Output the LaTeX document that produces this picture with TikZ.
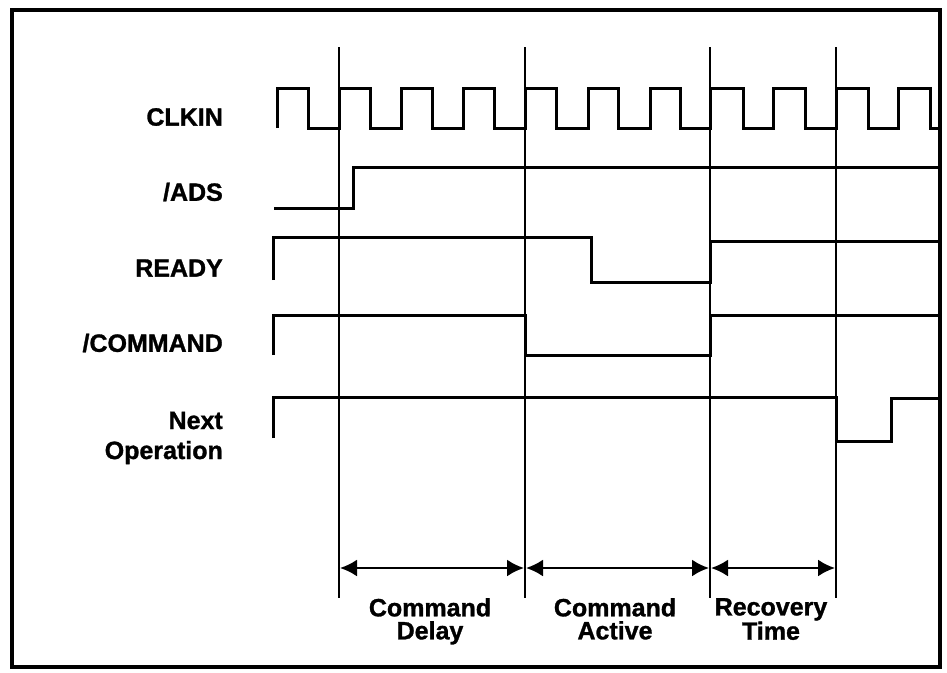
\documentclass[tikz,border=0pt]{standalone}
\usepackage{fontspec}
\setmainfont{Liberation Sans}
\newfontfamily\heavyfont{Liberation Sans Bold}[FakeBold=1.2]
\usetikzlibrary{arrows.meta}
\begin{document}
\begin{tikzpicture}[x=1pt,y=-1pt,
  wave/.style={line width=3pt, line join=miter},
  tline/.style={line width=2.3pt},
  span/.style={line width=2.3pt, {Latex[length=17pt,width=17pt]}-{Latex[length=17pt,width=17pt]}, shorten <=1pt, shorten >=1pt},
  siglabel/.style={font=\fontsize{25}{30}\selectfont\heavyfont, anchor=east, inner sep=0pt, align=right},
  spanlabel/.style={font=\fontsize{25}{23}\selectfont\heavyfont, anchor=north, inner sep=0pt, align=center}]
\useasboundingbox (0,0) rectangle (947,672);
\draw[line width=4.5pt] (12,10) rectangle (940,667);

% signal labels
\node[siglabel] (lclk) at (223,117) {CLKIN};
\node[siglabel] (lads) at (223,192) {/ADS};
\node[siglabel] (lrdy) at (223,268) {READY};
\node[siglabel] (lcmd) at (223,343) {/COMMAND};
\node[siglabel] (lnext) at (223,438) {Next\\Operation};

% time lines
\coordinate (t1top) at (339,47); \coordinate (t1bot) at (339,598);
\coordinate (t2top) at (525,47); \coordinate (t2bot) at (525,598);
\coordinate (t3top) at (710,47); \coordinate (t3bot) at (710,598);
\coordinate (t4top) at (836,47); \coordinate (t4bot) at (836,598);
\draw[tline] (t1top) -- (t1bot);
\draw[tline] (t2top) -- (t2bot);
\draw[tline] (t3top) -- (t3bot);
\draw[tline] (t4top) -- (t4bot);

% CLKIN
\draw[wave] (277,128) -- (277,88) -- (308,88) -- (308,128) -- (339,128) -- (339,88) -- (370,88) -- (370,128) -- (401,128) -- (401,88) -- (432,88) -- (432,128) -- (463,128) -- (463,88) -- (494,88) -- (494,128) -- (525,128) -- (525,88) -- (556,88) -- (556,128) -- (588,128) -- (588,88) -- (618,88) -- (618,128) -- (650,128) -- (650,88) -- (680,88) -- (680,128) -- (710,128) -- (710,88) -- (743,88) -- (743,128) -- (773,128) -- (773,88) -- (805,88) -- (805,128) -- (836,128) -- (836,88) -- (868,88) -- (868,128) -- (898,128) -- (898,88) -- (930,88) -- (930,128) -- (940,128);

% /ADS
\draw[wave] (274,208) -- (353,208) -- (353,167) -- (940,167);
% READY
\draw[wave] (273,280) -- (273,237) -- (591,237) -- (591,282) -- (710,282) -- (710,241) -- (940,241);
% /COMMAND
\draw[wave] (273,355) -- (273,315) -- (525,315) -- (525,355) -- (710,355) -- (710,315) -- (940,315);
% Next Operation
\draw[wave] (273,438) -- (273,397) -- (836,397) -- (836,441) -- (891,441) -- (891,398) -- (940,398);

% spans
\coordinate (a1) at (339,568); \coordinate (a2) at (525,568);
\coordinate (a3) at (710,568); \coordinate (a4) at (836,568);
\draw[span] (a1) -- (a2);
\draw[span] (a2) -- (a3);
\draw[span] (a3) -- (a4);

\node[spanlabel] (sdelay) at (430,598) {Command\\Delay};
\node[spanlabel] (sactive) at (615,598) {Command\\Active};
\node[spanlabel] (srecov) at (771,598) {Recovery\\Time};
\end{tikzpicture}
\end{document}
